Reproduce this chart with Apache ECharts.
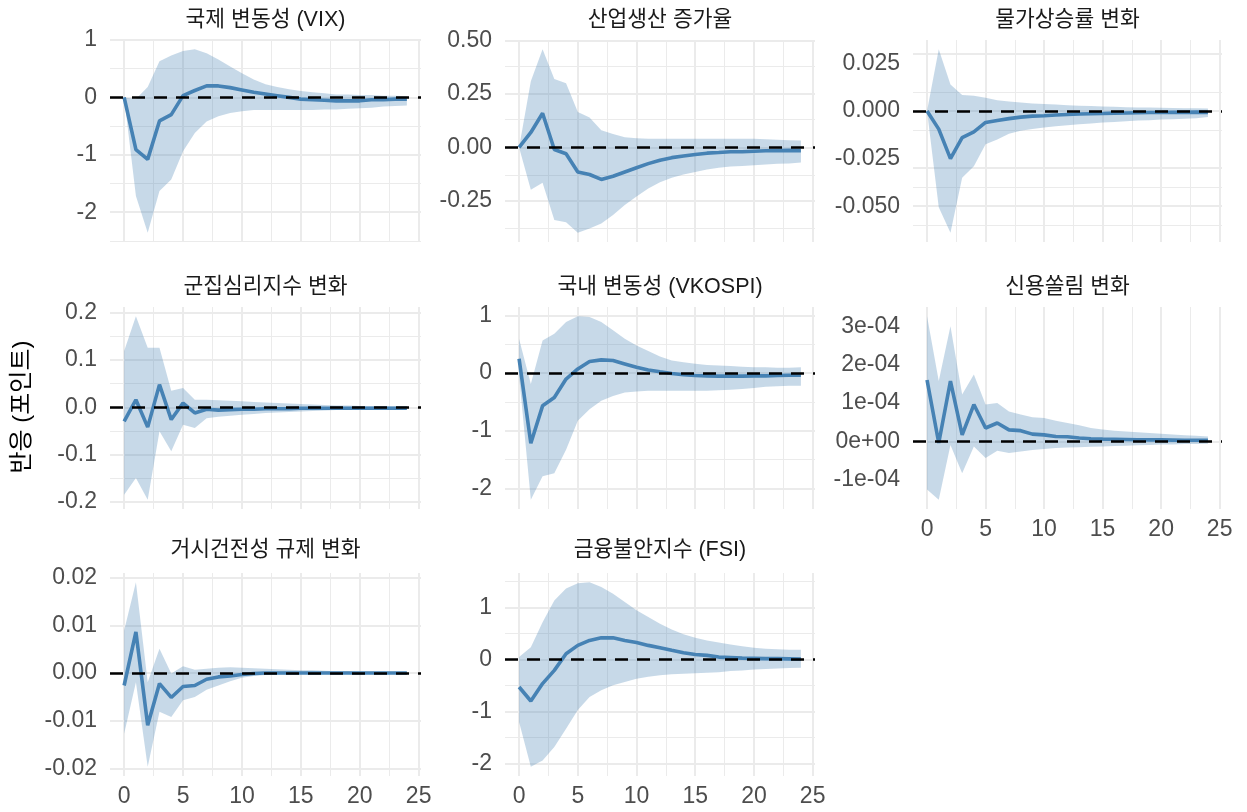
<!DOCTYPE html>
<html>
<head>
<meta charset="utf-8">
<script src="https://cdn.jsdelivr.net/npm/echarts/dist/echarts.min.js"></script>
<style>
html,body{margin:0;padding:0;background:#fff;}
#chart{width:1247px;height:812px;}
</style>
</head>
<body>
<div id="chart"></div>
<script>
// ---------------- DATA ----------------
const horizons = [0,1,2,3,4,5,6,7,8,9,10,11,12,13,14,15,16,17,18,19,20,21,22,23,24];
const xTicks = [0,5,10,15,20,25];
const yAxisTitle = '반응 (포인트)';

// 국제 변동성 (VIX)
const vixTitle = '국제 변동성 (VIX)';
const vixIrf   = [0,-0.91,-1.08,-0.41,-0.30,0.03,0.12,0.20,0.20,0.17,0.13,0.09,0.06,0.03,0.00,-0.03,-0.04,-0.05,-0.06,-0.06,-0.06,-0.04,-0.04,-0.03,-0.03];
const vixUpper = [0,-0.03,0.18,0.63,0.73,0.81,0.84,0.77,0.66,0.54,0.42,0.31,0.23,0.18,0.14,0.11,0.09,0.07,0.05,0.05,0.04,0.04,0.03,0.03,0.02];
const vixLower = [0,-1.72,-2.36,-1.63,-1.43,-0.94,-0.62,-0.42,-0.33,-0.27,-0.24,-0.22,-0.22,-0.22,-0.22,-0.22,-0.22,-0.21,-0.21,-0.20,-0.19,-0.18,-0.16,-0.15,-0.14];
const vixTicks = [-2,-1,0,1];

// 산업생산 증가율
const ipTitle = '산업생산 증가율';
const ipIrf   = [0,0.07,0.16,-0.01,-0.03,-0.115,-0.127,-0.15,-0.135,-0.115,-0.095,-0.076,-0.06,-0.048,-0.04,-0.033,-0.027,-0.024,-0.02,-0.02,-0.018,-0.016,-0.015,-0.014,-0.015];
const ipUpper = [0,0.31,0.46,0.32,0.30,0.166,0.14,0.08,0.063,0.047,0.043,0.04,0.04,0.04,0.04,0.04,0.04,0.04,0.04,0.04,0.04,0.038,0.036,0.034,0.032];
const ipLower = [0,-0.198,-0.166,-0.34,-0.35,-0.40,-0.38,-0.356,-0.316,-0.27,-0.23,-0.193,-0.163,-0.142,-0.127,-0.115,-0.103,-0.095,-0.09,-0.087,-0.083,-0.08,-0.077,-0.075,-0.071];
const ipTicks = [-0.25,0,0.25,0.5];

// 물가상승률 변화
const cpiTitle = '물가상승률 변화';
const cpiIrf   = [0,-0.0095,-0.025,-0.014,-0.011,-0.006,-0.005,-0.004,-0.0032,-0.0027,-0.0025,-0.0021,-0.0018,-0.0016,-0.0014,-0.0013,-0.0011,-0.001,-0.0009,-0.0008,-0.0008,-0.0007,-0.0007,-0.0006,-0.0007];
const cpiUpper = [0,0.0325,0.014,0.0084,0.008,0.007,0.0057,0.005,0.0045,0.004,0.0037,0.0034,0.003,0.0028,0.0026,0.0024,0.0022,0.002,0.0019,0.0018,0.0017,0.0016,0.0015,0.0014,0.0013];
const cpiLower = [0,-0.0505,-0.064,-0.035,-0.029,-0.0175,-0.015,-0.012,-0.0104,-0.0095,-0.0086,-0.008,-0.0075,-0.007,-0.0065,-0.006,-0.0057,-0.0054,-0.005,-0.0048,-0.0045,-0.0043,-0.004,-0.0038,-0.0032];
const cpiTicks = [-0.05,-0.025,0,0.025];

// 군집심리지수 변화
const herdTitle = '군집심리지수 변화';
const herdIrf   = [-0.030,0.016,-0.042,0.048,-0.026,0.009,-0.012,-0.004,-0.006,-0.005,-0.004,-0.004,-0.003,-0.003,-0.003,-0.002,-0.002,-0.002,-0.002,-0.002,-0.002,-0.002,-0.002,-0.002,-0.002];
const herdUpper = [0.119,0.193,0.126,0.126,0.035,0.041,0.016,0.016,0.015,0.014,0.013,0.011,0.010,0.009,0.008,0.007,0.006,0.005,0.004,0.004,0.003,0.003,0.003,0.002,0.002];
const herdLower = [-0.185,-0.150,-0.196,-0.051,-0.093,-0.037,-0.044,-0.023,-0.020,-0.018,-0.016,-0.014,-0.012,-0.011,-0.010,-0.009,-0.008,-0.007,-0.006,-0.006,-0.005,-0.005,-0.004,-0.004,-0.004];
const herdTicks = [-0.2,-0.1,0,0.1,0.2];

// 국내 변동성 (VKOSPI)
const vkTitle = '국내 변동성 (VKOSPI)';
const vkIrf   = [0.245,-1.22,-0.57,-0.425,-0.105,0.07,0.20,0.227,0.215,0.157,0.099,0.052,0.02,-0.01,-0.03,-0.045,-0.05,-0.055,-0.055,-0.055,-0.05,-0.05,-0.045,-0.04,-0.04];
const vkUpper = [0.59,-0.19,0.565,0.68,0.885,0.985,0.97,0.885,0.74,0.594,0.478,0.38,0.285,0.215,0.186,0.16,0.14,0.13,0.12,0.11,0.10,0.10,0.09,0.09,0.10];
const vkLower = [-0.05,-2.2,-1.79,-1.74,-1.33,-0.83,-0.63,-0.48,-0.40,-0.34,-0.32,-0.31,-0.31,-0.31,-0.31,-0.31,-0.31,-0.30,-0.29,-0.28,-0.26,-0.24,-0.23,-0.22,-0.22];
const vkTicks = [-2,-1,0,1];

// 신용쏠림 변화
const credTitle = '신용쏠림 변화';
const credIrf   = [1.6e-4,-0.04e-4,1.57e-4,0.17e-4,0.96e-4,0.35e-4,0.48e-4,0.30e-4,0.28e-4,0.19e-4,0.17e-4,0.13e-4,0.12e-4,0.09e-4,0.07e-4,0.06e-4,0.055e-4,0.05e-4,0.045e-4,0.04e-4,0.04e-4,0.035e-4,0.03e-4,0.03e-4,0.03e-4];
const credUpper = [3.26e-4,1.57e-4,3.0e-4,1.22e-4,1.74e-4,0.96e-4,1.0e-4,0.78e-4,0.70e-4,0.63e-4,0.61e-4,0.54e-4,0.48e-4,0.42e-4,0.35e-4,0.31e-4,0.28e-4,0.26e-4,0.24e-4,0.22e-4,0.20e-4,0.18e-4,0.16e-4,0.15e-4,0.13e-4];
const credLower = [-1.25e-4,-1.52e-4,-0.09e-4,-0.83e-4,-0.13e-4,-0.43e-4,-0.24e-4,-0.30e-4,-0.26e-4,-0.22e-4,-0.20e-4,-0.17e-4,-0.16e-4,-0.15e-4,-0.14e-4,-0.13e-4,-0.12e-4,-0.11e-4,-0.10e-4,-0.09e-4,-0.08e-4,-0.08e-4,-0.07e-4,-0.07e-4,-0.06e-4];
const credTicks = [-1e-4,0,1e-4,2e-4,3e-4];

// 거시건전성 규제 변화
const macroTitle = '거시건전성 규제 변화';
const macroIrf   = [-0.0026,0.0086,-0.0109,-0.0022,-0.0051,-0.0028,-0.0026,-0.0013,-0.0008,-0.0006,-0.0003,-0.0001,0,0,0,0,0,0,0,0,0,0,0,0,0];
const macroUpper = [0.0089,0.019,-0.0019,0.0051,-0.0001,0.0014,0.0007,0.0009,0.0011,0.0012,0.0011,0.001,0.0009,0.0008,0.0007,0.0006,0.0006,0.0005,0.0004,0.0004,0.0003,0.0003,0.0003,0.0002,0.0002];
const macroLower = [-0.0127,-0.0019,-0.0196,-0.0081,-0.0092,-0.0057,-0.005,-0.0035,-0.0026,-0.0017,-0.001,-0.0006,-0.0004,-0.0003,-0.0003,-0.0002,-0.0002,-0.0002,-0.0001,-0.0001,-0.0001,-0.0001,-0.0001,-0.0001,-0.0001];
const macroTicks = [-0.02,-0.01,0,0.01,0.02];

// 금융불안지수 (FSI)
const fsiTitle = '금융불안지수 (FSI)';
const fsiIrf   = [-0.525,-0.795,-0.46,-0.205,0.115,0.275,0.37,0.42,0.42,0.37,0.33,0.275,0.23,0.18,0.135,0.10,0.083,0.05,0.04,0.03,0.025,0.02,0.02,0.015,0.01];
const fsiUpper = [0.05,0.24,0.72,1.14,1.37,1.47,1.49,1.40,1.27,1.11,0.95,0.82,0.69,0.58,0.49,0.42,0.37,0.33,0.29,0.26,0.23,0.21,0.20,0.19,0.19];
const fsiLower = [-1.2,-2.06,-1.94,-1.68,-1.33,-0.97,-0.72,-0.59,-0.49,-0.43,-0.365,-0.33,-0.30,-0.28,-0.27,-0.26,-0.25,-0.24,-0.22,-0.21,-0.19,-0.18,-0.17,-0.16,-0.155];
const fsiTicks = [-2,-1,0,1];

// ---------------- FORMATTERS ----------------
function fixed(d){ return v => (Math.abs(v) < 1e-12 ? 0 : v).toFixed(d); }
function sci(v){
  if (Math.abs(v) < 1e-15) return '0e+00';
  const e = Math.floor(Math.log10(Math.abs(v)) + 1e-9);
  const m = Math.round(v / Math.pow(10, e));
  const es = (e < 0 ? '-' : '+') + String(Math.abs(e)).padStart(2, '0');
  return m + 'e' + es;
}

// ---------------- LAYOUT / STYLE ----------------
const FONT = "'Liberation Sans', 'Noto Sans CJK KR', sans-serif";
const colLeft = [110, 505, 913], colWidth = [311, 310, 309];
const rowTop = [40, 307, 573], rowHeight = [202, 202, 203];
const titleTop = [9, 276, 539];

const panels = [
  {title: vixTitle,   irf: vixIrf,   lo: vixLower,   hi: vixUpper,   ticks: vixTicks,   fmt: fixed(0), col:0, row:0, xlab:false},
  {title: ipTitle,    irf: ipIrf,    lo: ipLower,    hi: ipUpper,    ticks: ipTicks,    fmt: fixed(2), col:1, row:0, xlab:false},
  {title: cpiTitle,   irf: cpiIrf,   lo: cpiLower,   hi: cpiUpper,   ticks: cpiTicks,   fmt: fixed(3), col:2, row:0, xlab:false},
  {title: herdTitle,  irf: herdIrf,  lo: herdLower,  hi: herdUpper,  ticks: herdTicks,  fmt: fixed(1), col:0, row:1, xlab:false},
  {title: vkTitle,    irf: vkIrf,    lo: vkLower,    hi: vkUpper,    ticks: vkTicks,    fmt: fixed(0), col:1, row:1, xlab:false},
  {title: credTitle,  irf: credIrf,  lo: credLower,  hi: credUpper,  ticks: credTicks,  fmt: sci,      col:2, row:1, xlab:true},
  {title: macroTitle, irf: macroIrf, lo: macroLower, hi: macroUpper, ticks: macroTicks, fmt: fixed(2), col:0, row:2, xlab:true},
  {title: fsiTitle,   irf: fsiIrf,   lo: fsiLower,   hi: fsiUpper,   ticks: fsiTicks,   fmt: fixed(0), col:1, row:2, xlab:true}
];

const xr = Math.max(...horizons) - Math.min(...horizons);
const xMin = Math.min(...horizons) - 0.05 * xr, xMax = Math.max(...horizons) + 0.05 * xr;

function minors(ticks, lo, hi){
  const out = [];
  const step = ticks[1] - ticks[0];
  const ext = [ticks[0] - step, ...ticks, ticks[ticks.length-1] + step];
  for (let i = 0; i < ext.length - 1; i++){
    const m = (ext[i] + ext[i+1]) / 2;
    if (m >= lo && m <= hi) out.push(m);
  }
  return out;
}

const grids = [], xAxes = [], yAxes = [], series = [], titles = [];
const MAJOR = {color:'#EBEBEB', width:2, type:'solid'};
const MINOR = {color:'#EBEBEB', width:1, type:'solid'};

panels.forEach((p, i) => {
  const all = [...p.irf, ...p.lo, ...p.hi, 0];
  const dMin = Math.min(...all), dMax = Math.max(...all);
  const pad = 0.05 * (dMax - dMin);
  const yMin = dMin - pad, yMax = dMax + pad;

  grids.push({left: colLeft[p.col], top: rowTop[p.row], width: colWidth[p.col], height: rowHeight[p.row], containLabel:false});
  titles.push({text: p.title, left: colLeft[p.col] + colWidth[p.col]/2, top: titleTop[p.row], textAlign:'center', padding:0,
    textStyle:{fontSize:21.5, fontWeight:'normal', color:'#1A1A1A', fontFamily: FONT}});

  xAxes.push({gridIndex:i, type:'value', min:xMin, max:xMax,
    axisLine:{show:false}, axisTick:{show:false}, splitLine:{show:false},
    axisLabel: p.xlab ? {customValues: xTicks, fontSize:23, color:'#4D4D4D', margin:9, fontFamily: FONT} : {show:false}});

  const majorsY = p.ticks.filter(v => v >= yMin && v <= yMax);
  yAxes.push({gridIndex:i, type:'value', min:yMin, max:yMax,
    axisLine:{show:false}, axisTick:{show:false}, splitLine:{show:false},
    axisLabel:{customValues: majorsY, formatter: p.fmt, fontSize:23, color:'#4D4D4D', margin:13, fontFamily: FONT}});

  const gridLines = [];
  minors(p.ticks, yMin, yMax).forEach(v => gridLines.push({yAxis: v, lineStyle: MINOR}));
  minors(xTicks, xMin, xMax).forEach(v => gridLines.push({xAxis: v, lineStyle: MINOR}));
  majorsY.forEach(v => gridLines.push({yAxis: v, lineStyle: MAJOR}));
  xTicks.filter(v => v >= xMin && v <= xMax).forEach(v => gridLines.push({xAxis: v, lineStyle: MAJOR}));

  // band (confidence interval) drawn as one polygon through the axis scales
  const bandData = horizons.map((h,k) => [h, p.lo[k], p.hi[k]]);
  series.push({
    type:'custom', xAxisIndex:i, yAxisIndex:i, silent:true, z:2,
    data: bandData,
    encode:{x:0, y:[1,2]},
    renderItem: function(params, api){
      if (params.dataIndex !== 0) return null;
      const upperPts = bandData.map(d => api.coord([d[0], d[2]]));
      const lowerPts = bandData.map(d => api.coord([d[0], d[1]])).reverse();
      return {
        type:'polygon',
        shape:{points: upperPts.concat(lowerPts)},
        style:{fill:'rgba(70,130,180,0.3)', stroke:'none'}
      };
    },
    markLine:{z:1, silent:true, symbol:['none','none'], label:{show:false}, animation:false, data: gridLines}
  });
  series.push({
    type:'line', xAxisIndex:i, yAxisIndex:i,
    data: horizons.map((h,k) => [h, p.irf[k]]), symbol:'none', silent:true,
    lineStyle:{color:'#4682B4', width:3.6}, z:3,
    markLine:{z:6, silent:true, symbol:['none','none'], label:{show:false}, animation:false,
      lineStyle:{color:'#000', width:2.5, type:[13,9]}, data:[{yAxis:0}]}
  });
});

const chart = echarts.init(document.getElementById('chart'), null, {renderer:'canvas'});
chart.setOption({
  animation:false,
  backgroundColor:'#ffffff',
  title: titles,
  grid: grids,
  xAxis: xAxes,
  yAxis: yAxes,
  series: series,
  graphic: [{
    type:'text', x:22, y:407, rotation: Math.PI/2,
    style:{text: yAxisTitle, fontSize:24, fontFamily: FONT, fill:'#000', align:'center', verticalAlign:'middle'}
  }]
});
</script>
</body>
</html>
